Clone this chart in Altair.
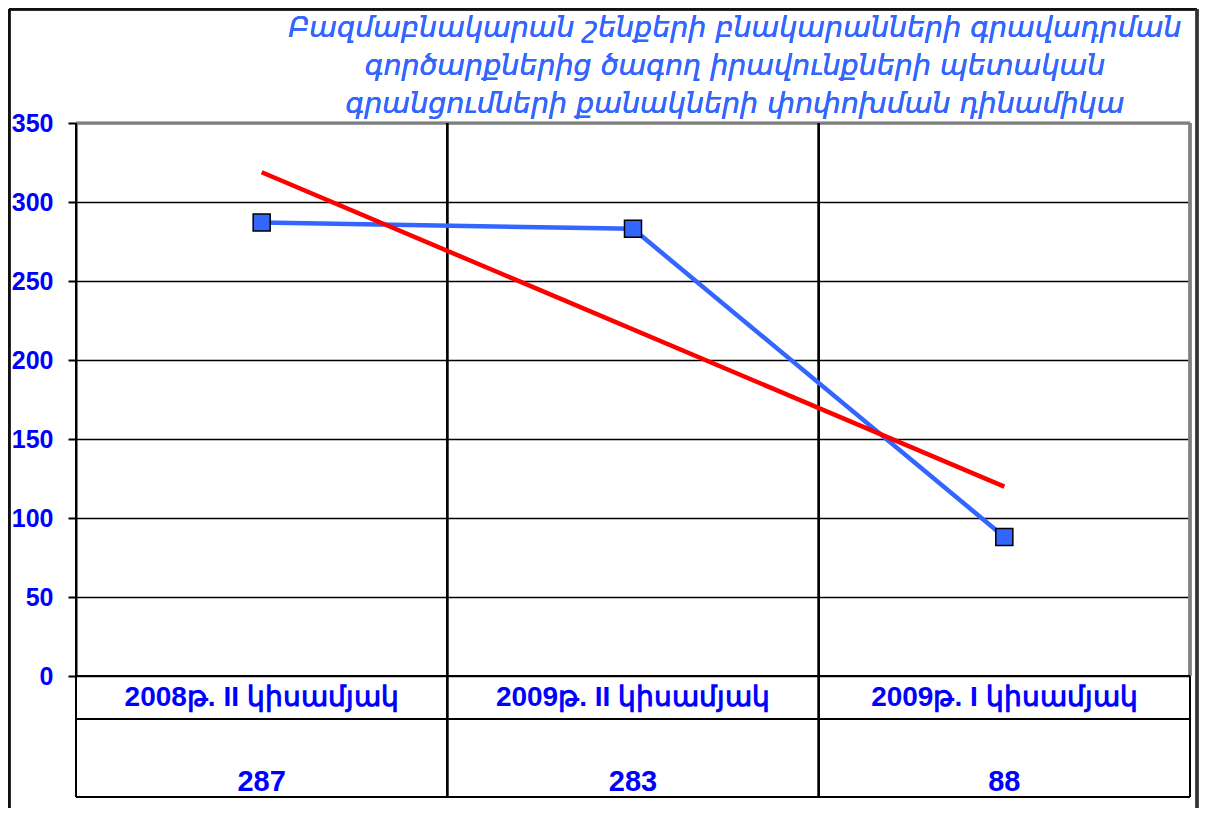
import altair as alt
import pandas as pd

categories = ["2008թ. II կիսամյակ", "2009թ. II կիսամյակ", "2009թ. I կիսամյակ"]
values = [287, 283, 88]
y_ticks = [0, 50, 100, 150, 200, 250, 300, 350]
title_lines = [
    "Բազմաբնակարան շենքերի բնակարանների գրավադրման",
    "գործարքներից ծագող իրավունքների պետական",
    "գրանցումների քանակների փոփոխման դինամիկա",
]

W, H = 1114, 553
ROW1 = 43
TABLE_BOTTOM = 674

df = pd.DataFrame({"idx": list(range(len(categories))), "cat": categories, "value": values})

xq = alt.X("idx:Q", scale=alt.Scale(domain=[-0.5, len(categories) - 0.5], nice=False, zero=False), axis=None)
yq = alt.Y("value:Q", scale=alt.Scale(domain=[0, 350], nice=False),
           axis=alt.Axis(values=y_ticks, title=None, grid=True, gridColor="black", gridWidth=1.5,
                         domainColor="black", domainWidth=2, tickColor="black", tickWidth=2, tickSize=8,
                         labelPadding=15, labelFont="Liberation Sans", labelFontSize=25,
                         labelFontWeight="bold", labelColor="#0000FF"))

base = alt.Chart(df)

blue_line = base.mark_line(color="#3366FF", strokeWidth=4.5).encode(x=xq, y=yq)
trend = base.transform_regression("idx", "value", method="linear", extent=[0, 2]).mark_line(
    color="#FF0000", strokeWidth=4.5).encode(x=xq, y=alt.Y("value:Q"))
markers = base.mark_point(shape="square", size=290, filled=True, fill="#3366FF", stroke="black",
                          strokeWidth=1.5, opacity=1).encode(x=xq, y=alt.Y("value:Q"))

cat_text = base.mark_text(font="Liberation Sans", fontSize=28, fontWeight="bold", color="#0000FF",
                          baseline="middle").encode(x=xq, y=alt.value(H + 22), text="cat:N")
val_text = base.mark_text(font="Liberation Sans", fontSize=29, fontWeight="bold", color="#0000FF",
                          baseline="middle").encode(x=xq, y=alt.value(659), text="value:Q")

title_marks = [
    base.mark_text(font="DejaVu Sans", fontSize=28.5, fontStyle="italic", color="#3366FF",
                   baseline="alphabetic", align="center").encode(
        x=alt.value(659), y=alt.value(yy), text=alt.value(line))
    for line, yy in zip(title_lines, [-86, -48, -10])
]

def hrule(y, x1, x2, c="black", w=2):
    return base.mark_rule(color=c, strokeWidth=w).encode(x=alt.value(x1), x2=alt.value(x2), y=alt.value(y))

def vrule(x, y1, y2, c="black", w=2):
    return base.mark_rule(color=c, strokeWidth=w).encode(x=alt.value(x), y=alt.value(y1), y2=alt.value(y2))

step = W / len(categories)
structure = [
    hrule(0, 0, W, "#808080", 2.5),
    vrule(W, 0, H, "#808080", 3),
    hrule(H, 0, W),
    hrule(H + ROW1, 0, W),
    hrule(TABLE_BOTTOM, 0, W),
    vrule(0, 0, TABLE_BOTTOM),
    vrule(W, H, TABLE_BOTTOM),
    vrule(step, 0, TABLE_BOTTOM),
    vrule(2 * step, 0, TABLE_BOTTOM),
    # outer frame
    vrule(-67, -114, 690, "#111111", 3),
    hrule(-114, -67, 1121, "#111111", 3),
    vrule(1121, -114, 690, "#333333", 3),
]

chart = alt.layer(*structure, blue_line, trend, markers, cat_text, val_text, *title_marks).properties(
    width=W, height=H,
    autosize=alt.AutoSizeParams(type="none"),
    padding={"left": 68, "top": 115, "right": 9, "bottom": 132},
).configure_view(stroke=None)

chart.save("out.html", embed_options={"renderer": "svg", "actions": False})
